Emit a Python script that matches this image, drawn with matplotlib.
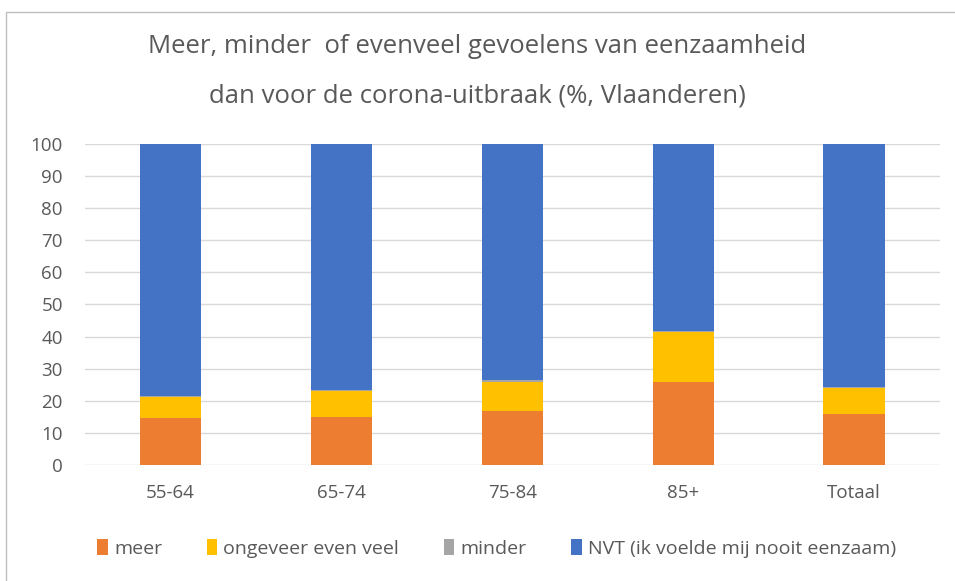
import numpy as np
import matplotlib.pyplot as plt
from matplotlib.patches import Rectangle

plt.rcParams['font.family'] = ['Open Sans', 'DejaVu Sans']

categories = ['55-64', '65-74', '75-84', '85+', 'Totaal']
meer = [14.6, 15.0, 16.9, 25.7, 15.8]
even_veel = [6.4, 8.0, 9.0, 15.8, 8.1]
minder = [0.3, 0.3, 0.5, 0.3, 0.5]
nvt = [100 - a - b - c for a, b, c in zip(meer, even_veel, minder)]

series = [
    ('meer', meer, '#ED7D31'),
    ('ongeveer even veel', even_veel, '#FFC000'),
    ('minder', minder, '#A5A5A5'),
    ('NVT (ik voelde mij nooit eenzaam)', nvt, '#4472C4'),
]

fig = plt.figure(figsize=(9.55, 5.81), dpi=100)
ax = fig.add_axes([0.089, 0.2, 0.895, 0.552])

x = np.arange(len(categories))
bottom = np.zeros(len(categories))
for name, vals, col in series:
    ax.bar(x, vals, width=0.36, bottom=bottom, color=col, label=name, zorder=3)
    bottom += np.array(vals)

ax.set_xlim(-0.5, len(categories) - 0.5)
ax.set_ylim(0, 100)
ax.set_yticks(range(0, 101, 10))
ax.set_xticks(x)
ax.set_xticklabels(categories)
ax.grid(axis='y', color='#D9D9D9', linewidth=1, zorder=0)
for s in ax.spines.values():
    s.set_visible(False)
ax.tick_params(length=0, labelsize=13.5, colors='#595959')
ax.tick_params(axis='y', pad=16)
ax.tick_params(axis='x', pad=14)

fig.text(0.5, 0.92, 'Meer, minder  of evenveel gevoelens van eenzaamheid',
         ha='center', va='center', fontsize=18.5, color='#595959')
fig.text(0.5, 0.835, 'dan voor de corona-uitbraak (%, Vlaanderen)',
         ha='center', va='center', fontsize=18.5, color='#595959')

ax.legend(loc='center', bbox_to_anchor=(0.52, 0.056), bbox_transform=fig.transFigure,
          ncol=4, frameon=False, fontsize=14, labelcolor='#595959',
          handlelength=0.55, handleheight=0.9, handletextpad=0.3, columnspacing=2.3)

fig.add_artist(Rectangle((0.006, -0.01), 1.1, 0.99, transform=fig.transFigure,
                         fill=False, edgecolor='#BFBFBF', linewidth=1))

fig.savefig('out.png', dpi=100)
